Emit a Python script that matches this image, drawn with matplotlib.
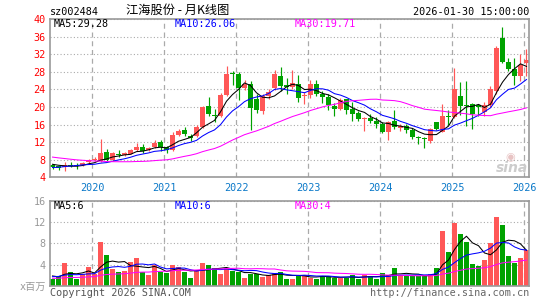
import numpy as np
import pandas as pd
import matplotlib
matplotlib.use("Agg")
import matplotlib.pyplot as plt

# monthly candles 2019-06 .. 2026-01
opens = [6.8, 6.5, 6.3, 6.9, 6.9, 6.7, 7.4, 8.0, 7.7, 9.8,
         7.9, 9.4, 9.0, 9.4, 10.1, 11.0, 10.2, 10.9, 12.0, 11.0,
         10.3, 13.6, 14.8, 13.5, 13.4, 15.5, 20.2, 18.2, 18.0, 22.7,
         27.7, 27.5, 24.4, 25.3, 21.8, 19.0, 22.6, 24.2, 27.1, 24.9,
         24.5, 25.3, 22.5, 22.7, 25.2, 23.0, 22.3, 20.2, 19.5, 21.7,
         19.5, 18.6, 17.2, 17.5, 16.9, 16.2, 14.3, 16.9, 15.3, 15.6,
         14.8, 13.1, 12.9, 12.2, 16.5, 14.4, 18.0, 17.8, 22.4, 20.5,
         20.6, 20.5, 18.8, 20.5, 23.6, 35.6, 30.2, 28.7, 27.0, 29.9]
highs = [7.0, 6.6, 7.4, 7.4, 7.2, 7.4, 8.2, 8.6, 12.6, 10.4,
         9.7, 10.2, 9.8, 10.5, 11.7, 11.5, 11.0, 12.4, 12.4, 11.2,
         14.4, 15.0, 15.5, 13.9, 15.8, 20.2, 22.2, 19.6, 23.2, 29.3,
         28.2, 28.0, 26.2, 26.0, 22.9, 23.0, 24.1, 28.3, 29.1, 26.5,
         28.5, 27.2, 23.5, 26.2, 26.1, 23.6, 23.0, 20.9, 22.1, 21.9,
         21.1, 19.1, 17.7, 18.3, 17.6, 16.6, 16.9, 19.4, 16.2, 16.2,
         15.3, 13.4, 13.1, 15.3, 16.6, 20.7, 19.4, 28.9, 25.6, 25.9,
         20.9, 20.6, 21.2, 24.8, 33.8, 38.1, 31.2, 31.2, 32.0, 33.1]
lows = [6.0, 5.7, 5.4, 6.3, 6.0, 6.6, 7.3, 7.6, 7.4, 7.6,
        7.7, 8.6, 8.8, 9.2, 10.0, 9.6, 10.0, 10.7, 10.0, 9.5,
        10.0, 13.4, 13.4, 12.3, 13.2, 15.2, 17.9, 16.5, 17.8, 22.4,
        25.0, 21.5, 23.8, 14.8, 18.6, 18.3, 21.8, 23.8, 23.6, 23.0,
        24.0, 21.2, 20.6, 22.0, 22.4, 21.0, 19.2, 18.0, 19.3, 18.5,
        16.9, 16.8, 14.6, 16.4, 15.1, 14.0, 12.5, 15.0, 14.6, 14.0,
        12.6, 11.6, 10.7, 11.7, 14.8, 14.2, 16.0, 17.5, 18.2, 15.6,
        15.0, 18.0, 18.0, 20.0, 23.0, 30.0, 28.2, 25.1, 25.9, 27.0]
closes = [6.4, 6.1, 6.9, 6.6, 6.6, 7.2, 8.0, 8.2, 9.5, 7.9,
          9.5, 9.1, 9.5, 10.1, 11.0, 10.0, 10.6, 11.8, 10.8, 10.2,
          13.6, 14.6, 13.9, 13.0, 15.5, 19.9, 18.4, 17.9, 22.7, 27.6,
          27.5, 24.2, 25.3, 19.8, 19.3, 22.5, 23.5, 27.4, 24.8, 24.6,
          25.5, 22.1, 22.8, 25.2, 23.0, 22.3, 20.4, 19.5, 21.5, 19.2,
          18.5, 17.2, 17.4, 16.7, 16.2, 14.3, 16.6, 15.4, 15.7, 14.8,
          13.1, 12.9, 12.6, 15.0, 15.0, 17.9, 17.7, 24.0, 20.3, 20.3,
          18.4, 19.9, 20.5, 24.0, 33.5, 30.2, 28.7, 27.0, 29.6, 30.6]
# volume, x百万
vols = [1.3, 1.8, 4.25, 2.6, 1.3, 2.2, 3.55, 2.3, 8.3, 5.85,
        3.24, 2.6, 2.8, 4.5, 5.3, 2.5, 2.0, 3.9, 2.6, 2.4,
        3.9, 3.55, 2.6, 1.5, 2.7, 4.3, 3.9, 3.4, 2.2, 3.4,
        2.8, 2.5, 1.5, 2.2, 2.3, 1.65, 2.0, 2.4, 2.6, 1.33,
        1.33, 2.03, 2.03, 1.52, 1.33, 1.84, 1.84, 1.46, 1.46, 1.46,
        2.03, 1.33, 2.03, 1.84, 1.33, 2.41, 2.03, 3.37, 2.03, 1.84,
        1.84, 1.84, 1.84, 2.22, 3.37, 10.4, 6.41, 11.75, 9.84, 8.32,
        4.13, 3.75, 4.89, 8.13, 12.9, 11.4, 5.65, 4.32, 5.27, 6.79]

# months before the window (2017-01 .. 2019-05), only used so the MA lines start at the left edge
hist_close = [11.5, 11.2, 11.4, 10.8, 10.2, 10.6, 10.4, 10.6, 10.9, 10.2, 9.6, 9.4,
              10.0, 9.5, 9.2, 8.8, 8.4, 7.6, 7.9, 7.4, 5.6, 5.4, 5.2, 5.5,
              5.8, 7.2, 7.6, 7.0, 6.6]
hist_vol = [1.6, 1.4, 1.1, 1.0, 1.3, 1.2, 0.9, 1.0, 1.4, 1.1, 1.5, 1.2,
            1.3, 1.0, 1.2, 1.6, 1.4, 1.1, 1.3, 1.4, 1.3, 1.8, 1.5, 1.6,
            1.6, 2.6, 1.9, 1.7, 1.7]

years = ['2020', '2021', '2022', '2023', '2024', '2025', '2026']
year_idx = [7, 19, 31, 43, 55, 67, 79]

RED = '#ff5757'
GREEN = '#00a200'
GRID = '#aaaaaa'
MONO = 'DejaVu Sans Mono'
CJK = ['Noto Sans CJK SC', 'DejaVu Sans']

W, H = 545, 300
fig = plt.figure(figsize=(W / 100, H / 100), dpi=100)
fig.patch.set_facecolor('white')


def px(x, y):
    return x / W, 1 - y / H


def ma(hist, vals, n):
    s = pd.Series(hist + vals)
    return s.rolling(n).mean().values[len(hist):]


x = np.arange(len(closes))
o = np.array(opens)
c = np.array(closes)
cols = [RED if c[i] >= o[i] else GREEN for i in range(len(c))]
grid_x = [i - 0.35 for i in year_idx]

# ---- price panel
ax = fig.add_axes([50 / W, 1 - 177.3 / H, 479 / W, 158.3 / H])
ax.set_xlim(-0.42, 79.42)
ax.set_ylim(4, 40)
ax.vlines(x, lows, highs, colors=cols, lw=0.85, zorder=2)
body = np.maximum(np.abs(c - o), 0.14)
ax.bar(x, body, bottom=np.minimum(o, c), width=0.78, color=cols, lw=0, zorder=3)

ax.plot(x, ma(hist_close, closes, 5), color='black', lw=0.75, zorder=4)
ax.plot(x, ma(hist_close, closes, 10), color='#0000ff', lw=0.75, zorder=4)
ax.plot(x, ma(hist_close, closes, 30), color='#ff00ff', lw=0.75, zorder=4)

ax.set_yticks(range(4, 41, 4))
ax.tick_params(axis='y', length=0, pad=3, labelcolor='#ff0000', labelsize=7.3)
ax.set_xticks(grid_x, years)
ax.tick_params(axis='x', length=0, pad=4, labelcolor='#0a78c8', labelsize=7.3)
for lab in ax.get_xticklabels() + ax.get_yticklabels():
    lab.set_fontfamily(MONO)
ax.yaxis.grid(True, color=GRID, ls=(0, (1, 2)), lw=0.8, zorder=0)
ax.xaxis.grid(True, color=GRID, ls=(0, (4, 3)), lw=0.9, zorder=0)

# ---- volume panel
axv = fig.add_axes([50 / W, 1 - 285.7 / H, 479 / W, 84.7 / H])
axv.set_xlim(-0.42, 79.42)
axv.set_ylim(0, 16)
axv.bar(x, vols, width=0.8, color=cols, lw=0, zorder=2)
axv.plot(x, ma(hist_vol, vols, 5), color='black', lw=0.75, zorder=3)
axv.plot(x, ma(hist_vol, vols, 10), color='#0000ff', lw=0.75, zorder=3)
axv.plot(x, ma(hist_vol, vols, 30), color='#ff00ff', lw=0.75, zorder=3)
axv.set_yticks([4, 8, 12, 16])
axv.tick_params(axis='y', length=0, pad=3, labelcolor='#999999', labelsize=7.3)
axv.set_xticks(grid_x, [''] * len(grid_x))
axv.tick_params(axis='x', length=0)
for lab in axv.get_yticklabels():
    lab.set_fontfamily(MONO)
axv.yaxis.grid(True, color=GRID, ls=(0, (1, 2)), lw=0.8, zorder=0)
axv.xaxis.grid(True, color=GRID, ls=(0, (4, 3)), lw=0.9, zorder=0)

for a in (ax, axv):
    a.set_axisbelow(True)
    for sp in a.spines.values():
        sp.set_color('#999999')
        sp.set_linewidth(1.2)
        sp.set_zorder(5)

# ---- texts
fig.text(*px(50, 15), 'sz002484', family=MONO, fontsize=7.3, va='baseline')
fig.text(*px(178, 10.5), '江海股份 - 月K线图', family=CJK, fontsize=8.8,
         ha='center', va='center')
fig.text(*px(529, 15), '2026-01-30 15:00:00', family=MONO, fontsize=7.3,
         ha='right', va='baseline')

fig.text(*px(54, 24), 'MA5:29.28', family=MONO, fontsize=7.3, va='center', color='black')
fig.text(*px(175, 24), 'MA10:26.06', family=MONO, fontsize=7.3, va='center', color='#0000ff')
fig.text(*px(295, 24), 'MA30:19.71', family=MONO, fontsize=7.3, va='center', color='#ff00ff')

fig.text(*px(54, 206.3), 'MA5:6', family=MONO, fontsize=7.3, va='center', color='black')
fig.text(*px(175, 206.3), 'MA10:6', family=MONO, fontsize=7.3, va='center', color='#0000ff')
fig.text(*px(295, 206.3), 'MA30:4', family=MONO, fontsize=7.3, va='center', color='#ff00ff')

fig.text(*px(46, 290), 'x百万', family=[MONO, 'Noto Sans CJK SC'], fontsize=7.3,
         ha='right', va='baseline', color='#999999')
fig.text(*px(50, 295.5), 'Copyright 2026 SINA.COM', family=MONO, fontsize=7.3,
         va='baseline', color='#555555')
fig.text(*px(529, 295.5), 'http://finance.sina.com.cn', family=MONO, fontsize=7.3,
         ha='right', va='baseline', color='#666666')

# sina watermark
fig.text(*px(510, 157), '◉', family='DejaVu Sans', fontsize=8, ha='center',
         va='center', color='#e8c4c4')
fig.text(*px(512, 168), 'sina', family='DejaVu Sans', fontsize=10, style='italic',
         weight='bold', ha='center', va='center', color='#cccccc')

fig.savefig('out.png', dpi=100)
